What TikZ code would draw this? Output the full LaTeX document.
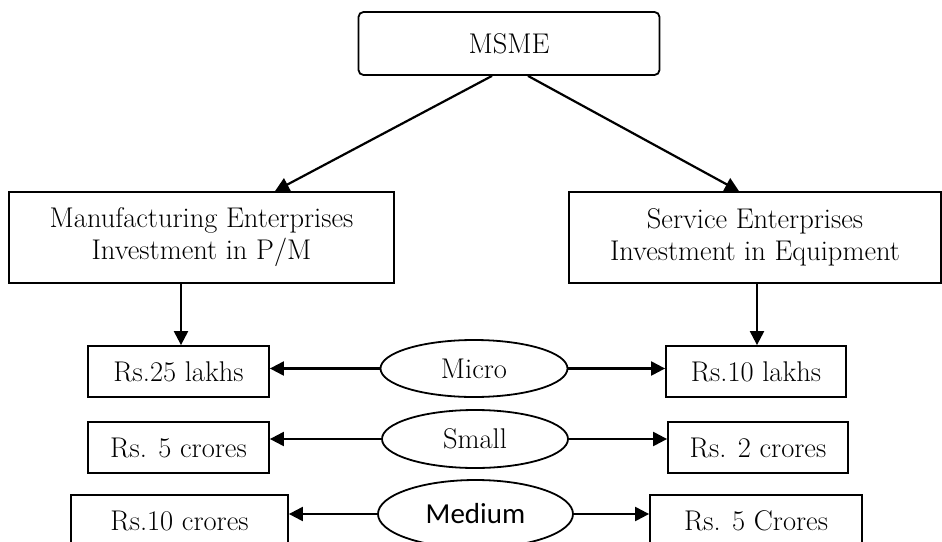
\documentclass[tikz,border=0pt]{standalone}
\usepackage{fontspec}
\newfontfamily\labelsans{Carlito}
\usetikzlibrary{arrows.meta,shapes.geometric}
\begin{document}
\begin{tikzpicture}[x=1pt,y=-1pt,
  every node/.style={font=\fontsize{28.5}{32}\selectfont, align=center, inner sep=0pt},
  box/.style={draw, line width=1.8pt, rectangle},
  oval/.style={draw, line width=1.8pt, ellipse},
  arr/.style={line width=2.2pt, -{Triangle[length=14pt,width=14pt]}}]
\useasboundingbox (0,0) rectangle (942,541);

% top
\node[box, rounded corners=5pt, minimum width=301pt, minimum height=63pt] (msme) at (509,43.5) {MSME};

% sectors
\node[box, minimum width=385pt, minimum height=91pt] (manuf) at (201.5,237.5)
  {Manufacturing Enterprises\\Investment in P/M};
\node[box, minimum width=372pt, minimum height=91pt] (serv) at (755,237.5)
  {Service Enterprises\\Investment in Equipment};

% micro row
\node[box, minimum width=181pt, minimum height=51pt] (m25) at (178.5,371.5) {Rs.25 lakhs};
\node[oval, minimum width=187pt, minimum height=57pt] (micro) at (474,368.5) {Micro};
\node[box, minimum width=180pt, minimum height=51pt] (s10) at (756,371.5) {Rs.10 lakhs};

% small row
\node[box, minimum width=181pt, minimum height=51pt] (m5) at (178.5,447.5) {Rs. 5 crores};
\node[oval, minimum width=186pt, minimum height=58pt] (small) at (475,439) {Small};
\node[box, minimum width=180pt, minimum height=51pt] (s2) at (758,447.5) {Rs. 2 crores};

% medium row
\node[box, minimum width=217pt, minimum height=52pt] (m10) at (179.5,521) {Rs.10 crores};
\node[oval, minimum width=195pt, minimum height=68pt, font=\labelsans\fontsize{29}{32}\selectfont] (medium) at (475.5,514) {Medium};
\node[box, minimum width=212pt, minimum height=52pt] (s5) at (756,521) {Rs. 5 Crores};

% connectors
\draw[arr] ([xshift=-17pt]msme.south) -- ([xshift=73.5pt]manuf.north);
\draw[arr] ([xshift=19pt]msme.south) -- ([xshift=-16pt]serv.north);
\draw[arr] ([xshift=-20.5pt]manuf.south) -- ([xshift=2.5pt]m25.north);
\draw[arr] ([xshift=2pt]serv.south) -- ([xshift=1pt]s10.north);

\draw[arr] (micro.west) -- (micro.west -| m25.east);
\draw[arr] (micro.east) -- (micro.east -| s10.west);
\draw[arr] (small.west) -- (small.west -| m5.east);
\draw[arr] (small.east) -- (small.east -| s2.west);
\draw[arr] (medium.west) -- (medium.west -| m10.east);
\draw[arr] (medium.east) -- (medium.east -| s5.west);
\end{tikzpicture}
\end{document}
